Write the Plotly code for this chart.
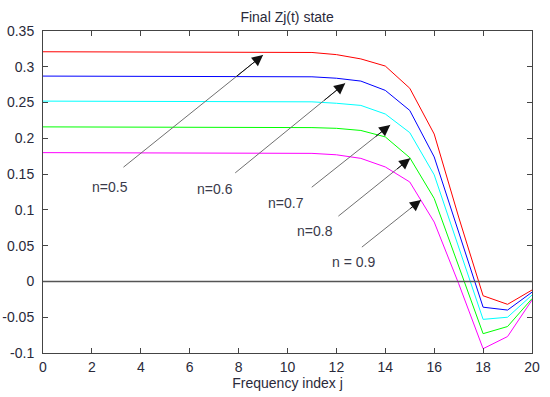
import plotly.graph_objects as go

j = list(range(21))
z_n05 = [0.321, 0.321, 0.321, 0.321, 0.321, 0.321, 0.321, 0.321, 0.321, 0.321, 0.321,
         0.320, 0.317, 0.311, 0.301, 0.270, 0.206, 0.090, -0.020, -0.032, -0.012]
z_n06 = [0.287, 0.287, 0.287, 0.287, 0.287, 0.287, 0.287, 0.287, 0.287, 0.287, 0.287,
         0.286, 0.284, 0.280, 0.267, 0.239, 0.174, 0.068, -0.036, -0.040, -0.015]
z_n07 = [0.252, 0.252, 0.252, 0.252, 0.252, 0.252, 0.252, 0.252, 0.252, 0.252, 0.252,
         0.251, 0.249, 0.246, 0.234, 0.208, 0.149, 0.048, -0.053, -0.050, -0.019]
z_n08 = [0.216, 0.216, 0.216, 0.216, 0.216, 0.216, 0.216, 0.216, 0.216, 0.216, 0.216,
         0.215, 0.214, 0.211, 0.202, 0.173, 0.116, 0.022, -0.073, -0.063, -0.024]
z_n09 = [0.180, 0.180, 0.180, 0.180, 0.180, 0.180, 0.180, 0.180, 0.180, 0.180, 0.180,
         0.179, 0.177, 0.172, 0.160, 0.139, 0.083, -0.003, -0.094, -0.077, -0.026]

series = [z_n05, z_n06, z_n07, z_n08, z_n09]
colors = ["#ff0000", "#0000ff", "#00ffff", "#00ff00", "#ff00ff"]

labels = ["n=0.5", "n=0.6", "n=0.7", "n=0.8", "n = 0.9"]
label_x = [2.75, 7.05, 9.94, 11.14, 12.70]
label_y = [0.132, 0.129, 0.110, 0.071, 0.0275]
head_x = [9.0, 12.36, 14.20, 15.02, 15.46]
head_y = [0.3164, 0.277, 0.2186, 0.172, 0.1138]
tail_x = [3.23, 7.80, 10.93, 12.02, 12.98]
tail_y = [0.158, 0.150, 0.130, 0.0896, 0.0463]

xticks = list(range(0, 21, 2))
yticks = [-0.1, -0.05, 0, 0.05, 0.1, 0.15, 0.2, 0.25, 0.3, 0.35]
ytick_text = ["-0.1", "-0.05", "0", "0.05", "0.1", "0.15", "0.2", "0.25", "0.3", "0.35"]

FONT = "Liberation Sans, Arial"
TXT = "#2a2a3a"

fig = go.Figure()
for s, c in zip(series, colors):
    fig.add_trace(go.Scatter(x=j, y=s, mode="lines", line=dict(color=c, width=1),
                             showlegend=False, hoverinfo="skip"))

fig.add_shape(type="line", xref="x", yref="y", x0=0, x1=20, y0=0, y1=0,
              line=dict(color="#555555", width=1.5))

for lx, ly, t in zip(label_x, label_y, labels):
    fig.add_annotation(x=lx, y=ly, text=t, showarrow=False,
                       font=dict(family=FONT, size=14, color="#3a3a4a"))

for hx, hy, tx, ty in zip(head_x, head_y, tail_x, tail_y):
    # gray shaft
    fig.add_annotation(x=hx, y=hy, ax=tx, ay=ty, axref="x", ayref="y", xref="x", yref="y",
                       text="", showarrow=True, arrowhead=0, arrowwidth=1,
                       arrowcolor="#707070", standoff=0, startstandoff=0)
    # black head
    fig.add_annotation(x=hx, y=hy, ax=hx - 0.2 * (hx - tx), ay=hy - 0.2 * (hy - ty),
                       axref="x", ayref="y", xref="x", yref="y",
                       text="", showarrow=True, arrowhead=2, arrowsize=2.2, arrowwidth=1,
                       arrowcolor="#111111", standoff=0, startstandoff=0)

axis_common = dict(showline=True, linecolor="#444444", linewidth=1, mirror="ticks",
                   ticks="inside", ticklen=5, tickcolor="#444444", showgrid=False,
                   zeroline=False, automargin=False,
                   tickfont=dict(family=FONT, size=14, color=TXT))

fig.update_layout(
    width=550, height=397,
    margin=dict(l=43, r=18, t=31, b=44),
    paper_bgcolor="white", plot_bgcolor="white",
    title=dict(text="Final Zj(t) state", x=0.522, xanchor="center", y=0.957, yanchor="middle",
               font=dict(family=FONT, size=14, color=TXT)),
    xaxis=dict(range=[0, 20], tickvals=xticks, ticklabelstandoff=1,
               title=dict(text="Frequency index j", standoff=3,
                          font=dict(family=FONT, size=14, color=TXT)),
               **axis_common),
    yaxis=dict(range=[-0.1, 0.35], tickvals=yticks, ticktext=ytick_text,
               ticklabelstandoff=5, **axis_common),
)

fig.write_html("out.html", config={"displayModeBar": False},
               post_script="document.body.style.margin='0';document.body.style.overflow='hidden';")
